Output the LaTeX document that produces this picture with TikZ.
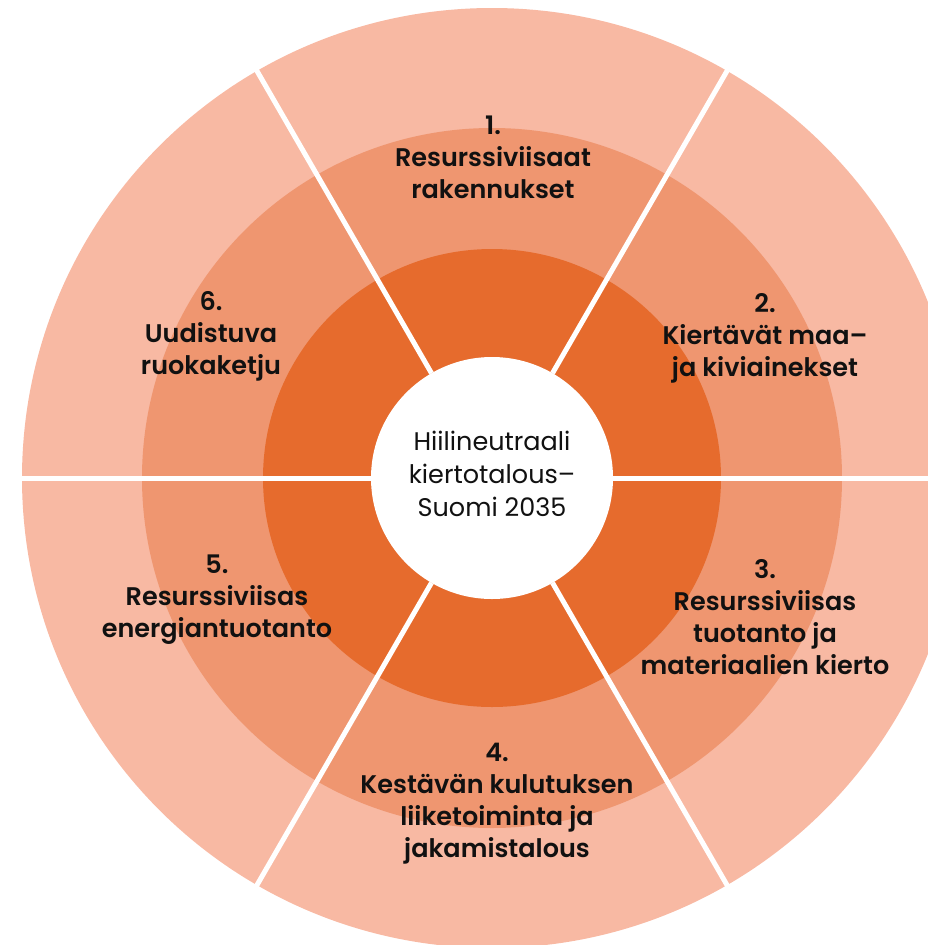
\documentclass[tikz,border=0pt]{standalone}
\usepackage{fontspec}
\usetikzlibrary{calc}
\setmainfont{Poppins}
\newfontfamily\labelfont{Poppins SemiBold}
\definecolor{ringout}{HTML}{F8B9A3}
\definecolor{ringmid}{HTML}{EF9670}
\definecolor{ringin}{HTML}{E66B2D}
\definecolor{txt}{HTML}{111111}
\begin{document}
\begin{tikzpicture}[x=1pt,y=1pt,
  lbl/.style={align=center,text=txt,font=\labelfont\fontsize{25.5}{32}\selectfont,inner sep=0pt},
  ctr/.style={align=center,text=txt,font=\fontsize{25.5}{33}\selectfont,inner sep=0pt},
  divider/.style={white,line width=5pt}]
\useasboundingbox (0,-945) rectangle (928,0);
\begin{scope}
\clip (0,-945) rectangle (928,0);
\coordinate (C) at (492,-478);
\fill[ringout] (C) circle (470);
\fill[ringmid] (C) circle (350);
\fill[ringin] (C) circle (229);
\fill[white] (C) circle (121);
\foreach \a in {0,60,...,300}
  \draw[divider] ($(C)+(\a:121)$) -- ($(C)+(\a:480)$);
\end{scope}
\node[ctr] (c) at (492,-474) {Hiilineutraali\\kiertotalous–\\Suomi 2035};
\node[lbl] (s1) at (493,-157) {1.\\Resurssiviisaat\\rakennukset};
\node[lbl] (s2) at (765,-338) {2.\\Kiertävät maa–\\ja kiviainekset};
\node[lbl] (s3) at (765,-617) {3.\\Resurssiviisas\\tuotanto ja\\materiaalien kierto};
\node[lbl] (s4) at (497,-804) {4.\\Kestävän kulutuksen\\liiketoiminta ja\\jakamistalous};
\node[lbl] (s5) at (217,-600) {5.\\Resurssiviisas\\energiantuotanto};
\node[lbl] (s6) at (211,-336) {6.\\Uudistuva\\ruokaketju};
\end{tikzpicture}
\end{document}
